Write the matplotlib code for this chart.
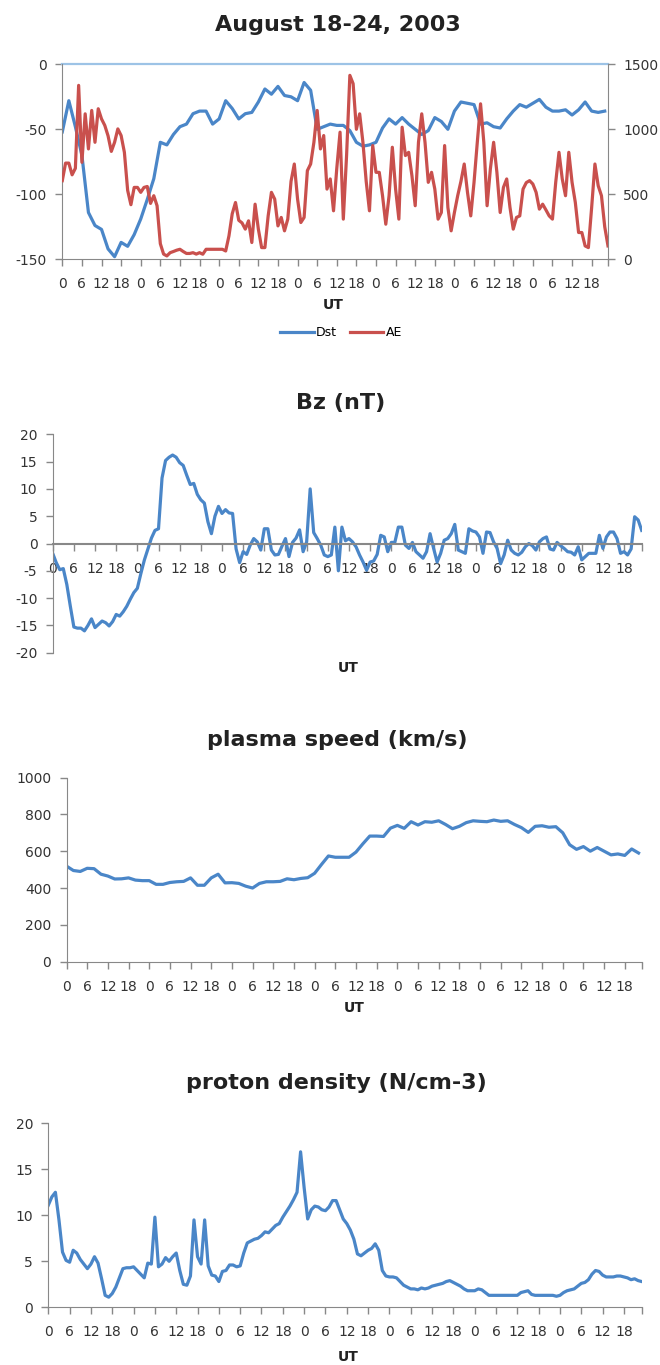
import matplotlib
matplotlib.use('Agg')
import matplotlib.pyplot as plt

W, H = 660, 1365

# hours since Aug 18 00 UT (7 days, 0..167)
hours = list(range(168))
dst_hours = list(range(0, 168, 2))
speed_hours = list(range(0, 168, 2))

# Dst (nT), every 2 h
dst = [-52, -28, -48, -70, -114, -124, -127, -142, -148, -137, -140, -131, -119, -104,
       -88, -60, -62, -54, -48, -46, -38, -36, -36, -46, -42, -28, -34, -42, -38, -37,
       -29, -19, -23, -17, -24, -25, -28, -14, -20, -50, -48, -46, -47,
       -47, -51, -60, -63, -62, -60, -49, -42, -46, -41, -46, -50, -54, -51, -41, -44,
       -50, -36, -29, -30, -31, -46, -45, -48, -49, -42, -36, -31, -33, -30, -27, -33,
       -36, -36, -35, -39, -35, -29, -36, -37, -36]

# AE (nT), hourly
ae = [605, 740, 740, 650, 700, 1338, 746, 1119, 849, 1145,
      900, 1158, 1080, 1030, 950, 830, 900, 1003, 952, 823,
      530, 420, 553, 553, 515, 553, 560, 430, 489, 412,
      120, 40, 26, 51, 60, 70, 77, 60, 45, 45,
      51, 40, 51, 39, 77, 77, 77, 77, 77, 77,
      64, 180, 350, 437, 300, 280, 232, 296, 129, 424,
      232, 90, 90, 334, 515, 463, 257, 322, 219, 309,
      600, 733, 463, 283, 322, 682, 733, 900, 1145, 849,
      952, 540, 618, 373, 700, 978, 309, 800, 1415, 1351,
      1000, 1119, 900, 600, 373, 875, 669, 669, 489, 270,
      489, 862, 540, 309, 1016, 798, 823, 643, 412, 900,
      1119, 900, 592, 669, 540, 309, 360, 875, 399, 219,
      360, 489, 600, 733, 515, 334, 592, 900, 1196, 900,
      412, 695, 900, 669, 360, 553, 618, 400, 232, 322,
      334, 540, 590, 605, 579, 515, 386, 424, 380, 334,
      309, 592, 823, 618, 489, 823, 592, 437, 206, 206,
      103, 90, 400, 733, 566, 489, 250, 103]

# Bz (nT), hourly
bz = [-1.8, -3.5, -4.8, -4.6, -7.5, -11.5, -15.3, -15.5, -15.5, -16.0,
      -15.0, -13.8, -15.4, -14.8, -14.2, -14.5, -15.1, -14.3, -13.0, -13.3,
      -12.5, -11.5, -10.2, -9.0, -8.2, -5.5, -3.0, -1.0, 1.0, 2.4,
      2.7, 12.0, 15.2, 15.8, 16.2, 15.8, 14.8, 14.3, 12.5, 10.8,
      11.0, 9.0, 8.0, 7.4, 4.0, 1.8, 5.0, 6.8, 5.5, 6.2,
      5.6, 5.5, -1.0, -3.5, -1.5, -2.0, -0.3, 0.9, 0.3, -1.2,
      2.7, 2.7, -1.2, -2.1, -2.0, -0.5, 0.9, -2.4, 0.2, 1.0,
      2.5, -1.5, 0.3, 10.0, 2.0, 0.9, -0.3, -2.1, -2.4, -2.1,
      3.0, -5.0, 3.0, 0.5, 0.9, 0.3, -0.6, -2.1, -3.4, -4.9,
      -3.4, -3.2, -2.0, 1.5, 1.2, -1.5, 0.2, 0.2, 3.0, 3.0,
      -0.3, -0.9, 0.2, -1.5, -2.1, -2.7, -1.5, 1.8, -0.9, -3.4,
      -1.8, 0.6, 0.9, 1.8, 3.5, -1.2, -1.5, -1.8, 2.7, 2.3,
      2.1, 1.2, -1.8, 2.1, 2.0, 0.3, -0.9, -3.7, -2.1, 0.6,
      -1.2, -1.8, -2.1, -1.6, -0.6, 0.0, -0.4, -1.2, 0.3, 0.9,
      1.2, -1.0, -1.2, 0.2, -0.4, -0.9, -1.5, -1.6, -2.1, -0.6,
      -3.0, -2.4, -1.8, -1.8, -1.8, 1.5, -0.9, 1.2, 2.1, 2.1,
      0.9, -1.8, -1.5, -2.1, -1.0, 4.9, 4.3, 2.4]

# plasma speed (km/s), every 2 h
speed = [519, 495, 490, 507, 505, 475, 465, 449, 450, 455, 443, 440, 440, 420, 420,
         430, 434, 436, 455, 415, 415, 455, 475, 428, 429, 425, 410, 400, 425, 434,
         434, 436, 450, 445, 452, 456, 480, 528, 574, 567, 567, 567, 595, 640, 682,
         682, 680, 725, 740, 724, 760, 742, 760, 757, 765, 745, 722, 735, 755, 765,
         762, 760, 769, 762, 765, 745, 728, 702, 735, 738, 730, 733, 700, 635, 610,
         625, 600, 620, 600, 580, 585, 577, 612, 590]

# proton density (N/cm-3), hourly
density = [11.1, 12.0, 12.5, 9.5, 6.0, 5.1, 4.9, 6.2, 5.9, 5.2,
           4.7, 4.2, 4.7, 5.5, 4.8, 3.1, 1.3, 1.1, 1.5, 2.2,
           3.2, 4.2, 4.3, 4.3, 4.4, 4.0, 3.6, 3.2, 4.8, 4.7,
           9.8, 4.4, 4.7, 5.4, 5.0, 5.5, 5.9, 4.0, 2.5, 2.4,
           3.4, 9.5, 5.5, 4.7, 9.5, 4.5, 3.5, 3.4, 2.8, 3.9,
           4.0, 4.6, 4.6, 4.4, 4.5, 5.9, 7.0, 7.2, 7.4, 7.5,
           7.8, 8.2, 8.1, 8.5, 8.9, 9.1, 9.8, 10.4, 11.0, 11.7,
           12.5, 16.9, 13.0, 9.6, 10.6, 11.0, 10.9, 10.6, 10.5, 10.9,
           11.6, 11.6, 10.6, 9.6, 9.1, 8.4, 7.4, 5.8, 5.6, 5.9,
           6.2, 6.4, 6.9, 6.2, 4.0, 3.4, 3.3, 3.3, 3.2, 2.8,
           2.4, 2.2, 2.0, 2.0, 1.9, 2.1, 2.0, 2.1, 2.3, 2.4,
           2.5, 2.6, 2.8, 2.9, 2.7, 2.5, 2.3, 2.0, 1.8, 1.8,
           1.8, 2.0, 1.9, 1.6, 1.3, 1.3, 1.3, 1.3, 1.3, 1.3,
           1.3, 1.3, 1.3, 1.6, 1.7, 1.8, 1.4, 1.3, 1.3, 1.3,
           1.3, 1.3, 1.3, 1.2, 1.3, 1.6, 1.8, 1.9, 2.0, 2.3,
           2.6, 2.7, 3.0, 3.6, 4.0, 3.9, 3.5, 3.3, 3.3, 3.3,
           3.4, 3.4, 3.3, 3.2, 3.0, 3.1, 2.9, 2.8]

tick_hours = list(range(0, 168, 6)) + [167]
tick_labels = ['0', '6', '12', '18'] * 7 + ['']

BLUE = '#4A86C8'
RED = '#C9504D'
GREY = '#888888'
LW = 2.3

plt.rcParams['font.family'] = ['DejaVu Sans']
plt.rcParams['axes.unicode_minus'] = False
fig = plt.figure(figsize=(W / 100, H / 100), dpi=100)


def add_axes(left, top, right, bottom):
    # positions given in pixels from the top-left corner
    return fig.add_axes([left / W, 1 - bottom / H, (right - left) / W, (bottom - top) / H])


def fig_text(x, y, s, **kw):
    fig.text(x / W, 1 - y / H, s, ha='center', va='center', **kw)


def style(ax):
    for side in ['top', 'right']:
        ax.spines[side].set_visible(False)
    for side in ['left', 'bottom']:
        ax.spines[side].set_color(GREY)
    ax.tick_params(colors=GREY, labelcolor='#333333', length=5, width=1, labelsize=10)
    ax.tick_params(axis='x', pad=8)
    ax.tick_params(axis='y', pad=6)
    ax.set_xlim(0, 167)
    ax.set_xticks(tick_hours)
    ax.set_xticklabels(tick_labels)
    ax.patch.set_alpha(0)


# Dst / AE
fig_text(338, 25, 'August 18-24, 2003', fontsize=16, fontweight='bold', color='#222222')
ax1 = add_axes(62.3, 64.3, 608, 259.3)
style(ax1)
l1, = ax1.plot(dst_hours, dst, color=BLUE, lw=LW, solid_joinstyle='round', label='Dst')
ax1.set_ylim(-150, 0)
ax1.set_yticks(range(-150, 1, 50))
ax1.axhline(0, color='#9DC3E6', lw=1.6, clip_on=False)
ax1b = ax1.twinx()
for side in ['top', 'left', 'bottom']:
    ax1b.spines[side].set_visible(False)
ax1b.spines['right'].set_color(GREY)
l2, = ax1b.plot(hours, ae, color=RED, lw=LW, solid_joinstyle='round', label='AE')
ax1b.set_ylim(0, 1500)
ax1b.set_yticks(range(0, 1501, 500))
ax1b.tick_params(colors=GREY, labelcolor='#333333', length=5, width=1, labelsize=10, pad=6)
fig_text(333, 305, 'UT', fontsize=10, fontweight='bold', color='#222222')
fig.legend([l1, l2], ['Dst', 'AE'], loc='center', bbox_to_anchor=(341 / W, 1 - 333 / H),
           ncol=2, frameon=False, fontsize=9, handlelength=2.7, handletextpad=0.2,
           columnspacing=1.0)

# Bz
fig_text(341, 403, 'Bz (nT)', fontsize=16, fontweight='bold', color='#222222')
ax2 = add_axes(52.7, 434.3, 641.7, 652.7)
style(ax2)
ax2.spines['bottom'].set_position(('data', 0))
ax2.spines['bottom'].set_linewidth(1.5)
ax2.plot(hours, bz, color=BLUE, lw=LW, solid_joinstyle='round')
ax2.set_ylim(-20, 20)
ax2.set_yticks(range(-20, 21, 5))
fig_text(348, 668, 'UT', fontsize=10, fontweight='bold', color='#222222')

# plasma speed
fig_text(337, 740, 'plasma speed (km/s)', fontsize=16, fontweight='bold', color='#222222')
ax3 = add_axes(66.5, 777.5, 642, 961.7)
style(ax3)
ax3.plot(speed_hours, speed, color=BLUE, lw=LW, solid_joinstyle='round')
ax3.set_ylim(0, 1000)
ax3.set_yticks(range(0, 1001, 200))
fig_text(354, 1008, 'UT', fontsize=10, fontweight='bold', color='#222222')

# proton density
fig_text(336, 1083, 'proton density (N/cm-3)', fontsize=16, fontweight='bold', color='#222222')
ax4 = add_axes(48.3, 1123.3, 641.7, 1307.3)
style(ax4)
ax4.plot(hours, density, color=BLUE, lw=LW, solid_joinstyle='round')
ax4.set_ylim(0, 20)
ax4.set_yticks(range(0, 21, 5))
fig_text(348, 1357, 'UT', fontsize=10, fontweight='bold', color='#222222')

fig.savefig('out.png', dpi=100)
